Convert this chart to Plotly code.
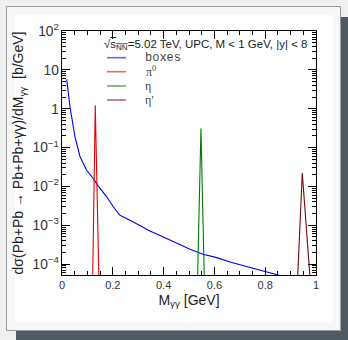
import plotly.graph_objects as go

# ---- data ----
box_mass = [0.0185, 0.0315, 0.051, 0.071, 0.097, 0.123, 0.143, 0.176, 0.202, 0.228,
            0.268, 0.307, 0.346, 0.399, 0.451, 0.504, 0.556, 0.609, 0.661, 0.740,
            0.793, 0.845, 0.900]
box_xsec = [5.7, 1.12, 0.19, 0.058, 0.026, 0.016, 0.0102, 0.0054, 0.0030, 0.0018,
            0.00135, 0.0010, 7.1e-4, 5.0e-4, 3.4e-4, 2.4e-4, 1.8e-4, 1.47e-4, 1.13e-4, 8.1e-5,
            6.6e-5, 5.4e-5, 4.3e-5]

pi0_mass = [0.121, 0.131, 0.145]
pi0_xsec = [5e-5, 1.23, 5e-5]
eta_mass = [0.534, 0.547, 0.560]
eta_xsec = [5e-5, 0.31, 5e-5]
etap_mass = [0.928, 0.946, 0.976]
etap_xsec = [5e-5, 0.022, 5e-5]

series_names = ["boxes", "π<sup>0</sup>", "η", "η′"]

# ---- styles ----
series_colors = ["#0000f0", "#e00000", "#007a00", "#7a0a0a"]
legend_fonts = ["Liberation Mono",
                "Liberation Serif",
                "Liberation Serif",
                "Liberation Serif"]
legend_text_center = [162.5, 151, 148, 149.5]   # pixel centres of legend labels

# ---- layout geometry (pixels) ----
W, H = 348, 340
L, R, T, B = 62, 316, 31, 275


def X(px):
    return (px - L) / (R - L)


def Y(py):
    return (B - py) / (B - T)


fig = go.Figure()
series = [(box_mass, box_xsec), (pi0_mass, pi0_xsec), (eta_mass, eta_xsec), (etap_mass, etap_xsec)]
for (xs, ys), name, col in zip(series, series_names, series_colors):
    fig.add_trace(go.Scatter(x=xs, y=ys, mode="lines", name=name,
                             line=dict(color=col, width=1.1), showlegend=False,
                             hoverinfo="skip"))

shapes = [
    dict(type="rect", xref="paper", yref="paper", x0=X(341), x1=X(348), y0=Y(17), y1=Y(340),
         fillcolor="#4f5a64", line=dict(width=0), layer="below"),
    dict(type="rect", xref="paper", yref="paper", x0=X(16), x1=X(348), y0=Y(331), y1=Y(340),
         fillcolor="#4f5a64", line=dict(width=0), layer="below"),
    dict(type="rect", xref="paper", yref="paper", x0=X(6.5), x1=X(340.5), y0=Y(6.5), y1=Y(330.5),
         fillcolor="#f7f7f7", line=dict(width=1, color="#9a9a9a"), layer="below"),
    dict(type="rect", xref="paper", yref="paper", x0=X(15), x1=X(333), y0=Y(15), y1=Y(323),
         fillcolor="#ffffff", line=dict(width=0), layer="below"),
]

annotations = [
    dict(xref="paper", yref="paper", x=X(102), y=Y(45), xanchor="left", yanchor="middle",
         showarrow=False,
         text="√<span style=\"text-decoration:overline\">s<sub>NN</sub></span>=5.02 TeV, UPC, M &lt; 1 GeV, |y| &lt; 8",
         font=dict(family="Liberation Sans, Arial", size=11.5, color="#222"))
]

legend_rows = [57.7, 71.7, 86, 100]
for row, name, col, fnt, cx in zip(legend_rows, series_names, series_colors, legend_fonts,
                                   legend_text_center):
    shapes.append(dict(type="line", xref="paper", yref="paper", x0=X(107), x1=X(126),
                       y0=Y(row), y1=Y(row), line=dict(color=col, width=1.6), opacity=0.6))
    annotations.append(dict(xref="paper", yref="paper", x=X(cx), y=Y(row), xanchor="center",
                            yanchor="middle", showarrow=False, text=name,
                            font=dict(family=fnt, size=12, color="#444")))

axis_common = dict(showline=True, linecolor="black", linewidth=1, mirror="allticks",
                   ticks="inside", tickcolor="black", showgrid=False, zeroline=False,
                   automargin=False,
                   tickfont=dict(family="Liberation Sans, Arial", size=11, color="#333"))

fig.update_layout(
    width=W, height=H,
    margin=dict(l=L, r=W - R, t=T, b=H - B, autoexpand=False),
    paper_bgcolor="#efefef", plot_bgcolor="white",
    shapes=shapes, annotations=annotations,
    xaxis=dict(range=[0, 1], dtick=0.2, tick0=0, ticklen=8,
               minor=dict(dtick=0.05, ticklen=4, ticks="inside", tickcolor="black"),
               title=dict(text="M<sub>γγ</sub> [GeV]", standoff=4,
                          font=dict(family="Liberation Sans, Arial", size=14, color="#222")),
               **axis_common),
    yaxis=dict(type="log", range=[-4.28, 2], dtick=1, tick0=0, exponentformat="power", ticklen=8,
               minor=dict(dtick="D1", ticklen=4, ticks="inside", tickcolor="black"),
               title=dict(text="dσ(Pb+Pb → Pb+Pb+γγ)/dM<sub>γγ</sub>  [b/GeV]", standoff=5,
                          font=dict(family="Liberation Sans, Arial", size=14, color="#222")),
               **axis_common),
)

fig.write_html("out.html", config={"displayModeBar": False, "staticPlot": True},
               post_script="document.body.style.margin='0';document.body.style.background='#efefef';")
